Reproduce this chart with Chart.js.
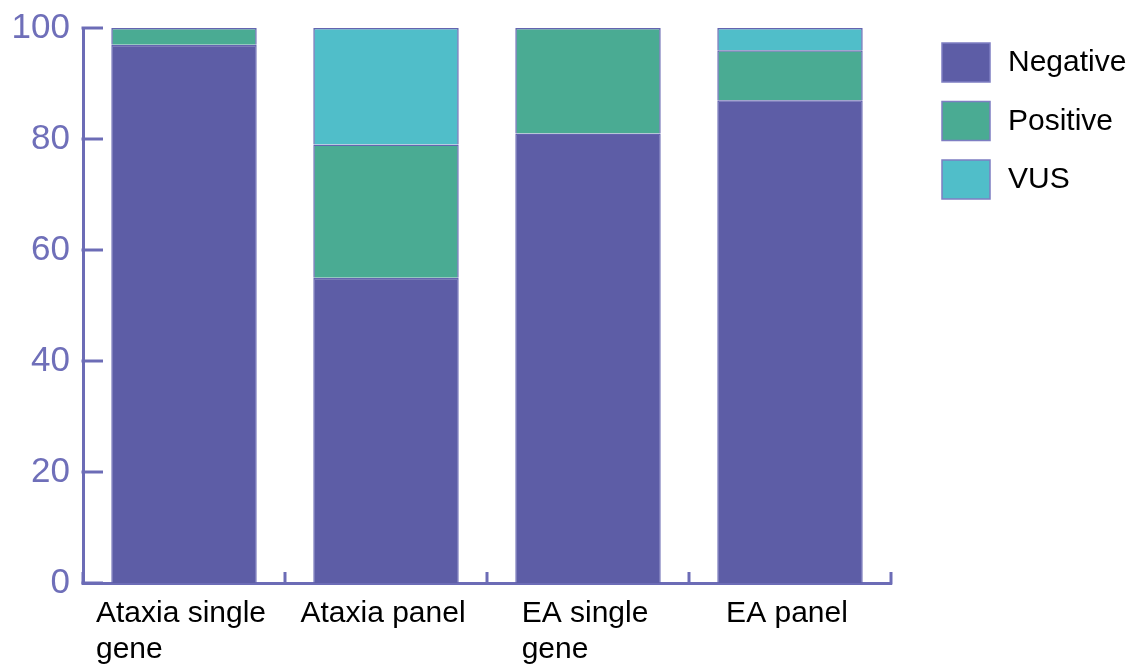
<!DOCTYPE html>
<html><head><meta charset="utf-8">
<script src="https://cdn.jsdelivr.net/npm/chart.js@4.4.1/dist/chart.umd.min.js"></script>
<style>html,body{margin:0;padding:0;background:#fff;} #wrap{width:1131px;height:666px;}</style>
</head><body><div id="wrap"><canvas id="c" width="1131" height="666"></canvas></div>
<script>
const categories = [["Ataxia single","gene"],["Ataxia panel"],["EA single","gene"],["EA panel"]];
const seriesNames = ["Negative","Positive","VUS"];
const negative = [97,55,81,87];
const positive = [3,24,19,9];
const vus = [null,21,null,4];
const yTicks = [0,20,40,60,80,100];
const seriesColors = ['#5D5DA6','#4AAB93','#50BEC9'];
const AXIS = '#6C6CB6';
const FONT = '"Liberation Sans", Arial, sans-serif';

const decor = {
  id: 'decor',
  afterDraw(chart) {
    const {ctx, chartArea: a, scales: {x, y}} = chart;
    ctx.save();
    ctx.strokeStyle = AXIS; ctx.lineWidth = 3; ctx.lineCap = 'butt';
    yTicks.forEach(v => {
      const py = y.getPixelForValue(v);
      ctx.beginPath(); ctx.moveTo(a.left - 1.5, py); ctx.lineTo(a.left + 20, py); ctx.stroke();
    });
    const n = categories.length;
    for (let i = 0; i <= n; i++) {
      const px = x.getPixelForValue(i - 0.5);
      ctx.beginPath(); ctx.moveTo(px, a.bottom + 1.5); ctx.lineTo(px, a.bottom - 11); ctx.stroke();
    }
    // x labels, left-aligned lines, block centred on category
    ctx.font = '30px ' + FONT; ctx.fillStyle = '#000'; ctx.textBaseline = 'alphabetic'; ctx.textAlign = 'left';
    categories.forEach((lines, i) => {
      const cx = x.getPixelForValue(i);
      const w = Math.max(...lines.map(l => ctx.measureText(l).width));
      lines.forEach((l, j) => ctx.fillText(l, cx - w / 2 - 3, a.bottom + 39 + j * 36));
    });
    // legend
    chart.data.datasets.forEach((ds, i) => {
      const bx = a.right + 51, by = 43 + i * 58.5;
      ctx.fillStyle = ds.backgroundColor; ctx.fillRect(bx, by, 48, 39);
      ctx.strokeStyle = '#7E7EC2'; ctx.lineWidth = 1.5; ctx.strokeRect(bx, by, 48, 39);
      ctx.fillStyle = '#000'; ctx.font = '30px ' + FONT; ctx.textBaseline = 'middle';
      ctx.fillText(ds.label, bx + 66, by + 20);
    });
    ctx.restore();
  }
};

const values = [negative, positive, vus];
new Chart(document.getElementById('c'), {
  type: 'bar',
  data: {
    labels: categories,
    datasets: seriesNames.map((name, i) => ({
      label: name,
      data: values[i],
      backgroundColor: seriesColors[i],
      borderColor: '#6464B0',
      borderWidth: 1.5,
      categoryPercentage: 1,
      barPercentage: 0.72
    }))
  },
  options: {
    responsive: false,
    animation: false,
    devicePixelRatio: 1,
    layout: {padding: {top: 28, right: 240, left: 0, bottom: 0}},
    plugins: {legend: {display: false}, tooltip: {enabled: false}},
    scales: {
      x: {
        stacked: true,
        grid: {display: false, drawTicks: false},
        border: {display: true, color: AXIS, width: 3},
        ticks: {display: false},
        afterFit: s => { s.height = 83; }
      },
      y: {
        stacked: true,
        min: 0, max: 100,
        grid: {display: false, drawTicks: false},
        border: {display: true, color: AXIS, width: 3},
        ticks: {stepSize: 20, color: '#6F6FB9', font: {size: 35, family: FONT, lineHeight: 0.8}, padding: 13},
        afterFit: s => { s.width = 83; }
      }
    }
  },
  plugins: [decor]
});
</script>
</body></html>
